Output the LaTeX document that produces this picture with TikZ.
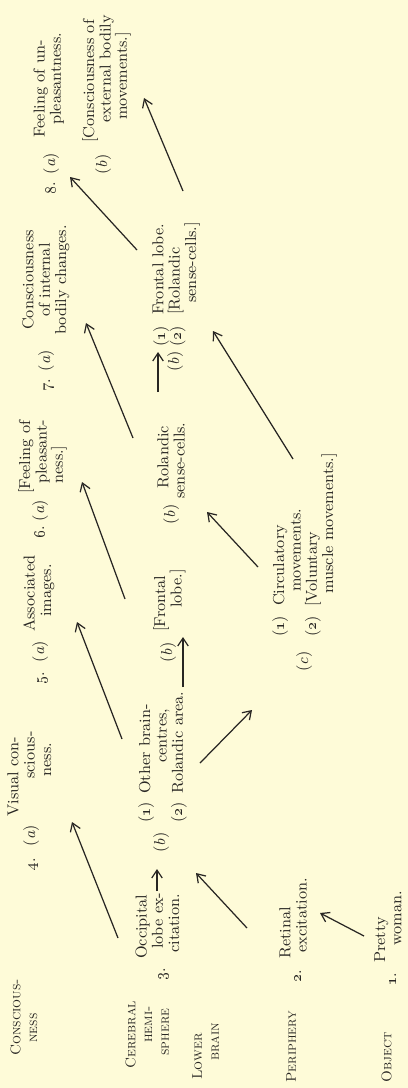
\documentclass[tikz,border=0pt]{standalone}
\usetikzlibrary{arrows.meta}
\definecolor{paper}{RGB}{254,251,216}
\definecolor{ink}{RGB}{40,38,35}
\newlength\pxu \setlength\pxu{0.02cm}
\newcommand\ind[1]{\hspace*{#1\pxu}}
\newcommand\osn[1]{\oldstylenums{#1}}
\begin{document}
\begin{tikzpicture}[x=0.02cm,y=-0.02cm,
  lbl/.style={rotate=90,anchor=north west,inner sep=0pt,align=left,text=ink,font=\fontsize{9}{9.3}\selectfont},
  sclbl/.style={lbl,font=\fontsize{8}{9.6}\selectfont\scshape},
  arr/.style={draw=ink,line width=0.7pt,-{Straight Barb[length=4.5pt,width=6pt]}}]
\fill[paper] (0,0) rectangle (408,1088);
\useasboundingbox (0,0) rectangle (408,1088);
% level labels
\node[sclbl] (cons) at (10,1056) {Conscious-\\\ind{13}ness};
\node[sclbl] (cere) at (125,1069) {Cerebral\\\ind{26}hemi-\\\ind{13}sphere};
\node[sclbl] (lowb) at (192,1080) {Lower\\\ind{19}brain};
\node[sclbl] (peri) at (286,1083) {Periphery};
\node[sclbl] (obj) at (381,1083) {Object};
% stage 1-3
\node[lbl] (n1) at (389,986) {\osn{1}.};
\node[lbl] (n2) at (294,983) {\osn{2}.};
\node[lbl] (n3) at (158,981) {\osn{3}.};
\node[lbl] (t1) at (374,963) {Pretty\\\ind{17}woman.};
\node[lbl] (t2) at (279,959) {Retinal\\\ind{6}excitation.};
\node[lbl] (t3) at (135,959) {Occipital\\\ind{10}lobe ex-\\\ind{6}citation.};
\node[lbl] (t3bl) at (153,853) {(\textit{b})};
\node[lbl] (t3b) at (138,823) {(\osn{1})\ind{8}Other brain-\\\ind{60}centres,\\(\osn{2})\ind{8}Rolandic area.};
% stage 4
\node[lbl] (n4) at (23,871) {\osn{4}.\ind{12}(\textit{a})};
\node[lbl] (t4) at (7,817) {Visual con-\\\ind{38}scious-\\\ind{40}ness.};
% stage 5
\node[lbl] (n5) at (32,685) {\osn{5}.\ind{10}(\textit{a})};
\node[lbl] (t5a) at (23,632) {Associated\\\ind{15}images.};
\node[lbl] (t5bl) at (160,663) {(\textit{b})};
\node[lbl] (t5b) at (153,632) {[Frontal\\\ind{24}lobe.]};
\node[lbl] (t5cl) at (296,672) {(\textit{c})};
\node[lbl] (t5c) at (272,637) {(\osn{1})\ind{10}Circulatory\\\ind{45}movements.\\(\osn{2})\ind{9}[Voluntary\\\ind{43}muscle movements.]};
% stage 6
\node[lbl] (n6) at (32,539) {\osn{6}.\ind{5}(\textit{a})};
\node[lbl] (t6a) at (18,494) {[Feeling of\\\ind{10}pleasant-\\\ind{10}ness.]};
\node[lbl] (t6bl) at (163,525) {(\textit{b})};
\node[lbl] (t6b) at (157,499) {\ind{10}Rolandic\\sense-cells.};
% stage 7
\node[lbl] (n7) at (38,392) {\osn{7}.\ind{8}(\textit{a})};
\node[lbl,align=center] (t7a) at (22,335) {Consciousness\\of internal\\bodily changes.};
\node[lbl] (t7bl) at (167,372) {(\textit{b})};
\node[lbl] (t7bn) at (153,347) {(\osn{1})\\(\osn{2})};
\node[lbl] (t7b) at (152,315) {Frontal lobe.\\{}[Rolandic\\\ind{12}sense-cells.]};
% stage 8
\node[lbl] (n8) at (43,195) {\osn{8}.\ind{8}(\textit{a})};
\node[lbl] (t8a) at (33,138) {Feeling of un-\\\ind{13}pleasantness.};
\node[lbl] (t8bl) at (95,175) {(\textit{b})};
\node[lbl] (t8b) at (82,143) {[Consciousness of\\\ind{20}external bodily\\\ind{23}movements.]};
% arrow ends
\coordinate (a1s) at (364,936); \coordinate (a1e) at (320,913);
\coordinate (a2s) at (247,928); \coordinate (a2e) at (196,873);
\coordinate (a3s) at (118,938); \coordinate (a3e) at (72,822);
\coordinate (a4s) at (157,891); \coordinate (a4e) at (157,869);
\coordinate (a5s) at (122,739); \coordinate (a5e) at (77,622);
\coordinate (a6s) at (183,687); \coordinate (a6e) at (183,637);
\coordinate (a7s) at (200,763); \coordinate (a7e) at (252,710);
\coordinate (a8s) at (125,599); \coordinate (a8e) at (82,482);
\coordinate (a9s) at (258,567); \coordinate (a9e) at (207,512);
\coordinate (a10s) at (133,438); \coordinate (a10e) at (86,323);
\coordinate (a11s) at (158,392); \coordinate (a11e) at (158,352);
\coordinate (a12s) at (293,459); \coordinate (a12e) at (213,331);
\coordinate (a13s) at (137,250); \coordinate (a13e) at (70,177);
\coordinate (a14s) at (183,191); \coordinate (a14e) at (144,98);
\foreach \i in {1,...,14} \draw[arr] (a\i s) -- (a\i e);
\end{tikzpicture}
\end{document}
